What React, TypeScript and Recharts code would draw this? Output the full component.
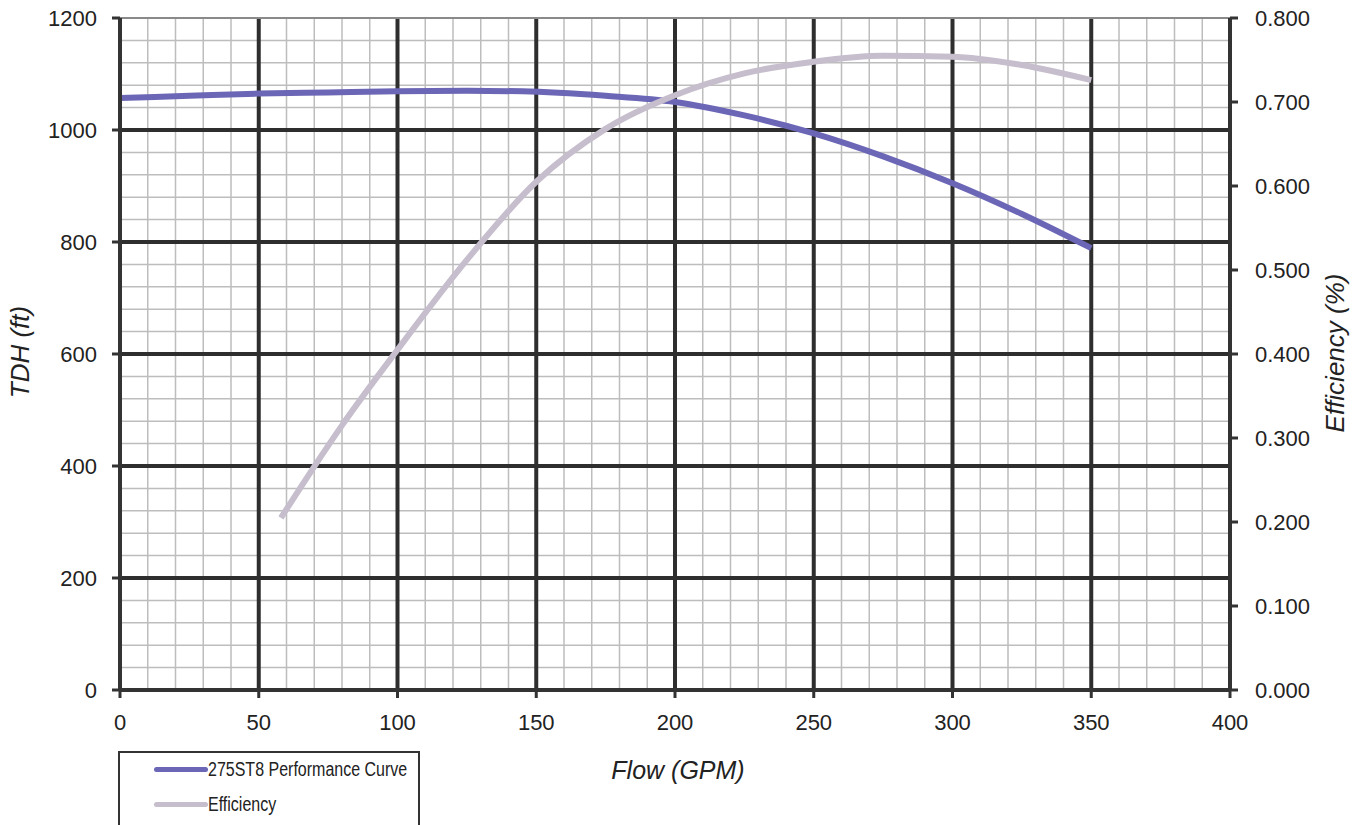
import React from 'react';
import { LineChart, Line, XAxis, YAxis, ReferenceLine } from 'recharts';

// Pump curve: TDH (ft) vs flow (GPM)
const tdhFlow = [0, 25, 50, 75, 100, 125, 145, 175, 200, 225, 250, 275, 300, 325, 350];
const tdhValues = [1057, 1061, 1065, 1067, 1069, 1070, 1069, 1061, 1050, 1026, 994, 953, 905, 850, 789];

// Efficiency (fraction) vs flow (GPM)
const effFlow = [58, 70, 80, 100, 125, 150, 175, 200, 225, 250, 275, 300, 325, 350];
const effValues = [0.205, 0.266, 0.315, 0.405, 0.512, 0.605, 0.668, 0.708, 0.734, 0.748, 0.755, 0.754, 0.744, 0.726];

const xTicks = [0, 50, 100, 150, 200, 250, 300, 350, 400];
const leftTicks = [0, 200, 400, 600, 800, 1000, 1200];
const rightTicks = [0, 0.1, 0.2, 0.3, 0.4, 0.5, 0.6, 0.7, 0.8];
const xMinor = [10, 20, 30, 40, 60, 70, 80, 90, 110, 120, 130, 140, 160, 170, 180, 190, 210, 220, 230, 240, 260, 270, 280, 290, 310, 320, 330, 340, 360, 370, 380, 390];
const yMinor = [40, 80, 120, 160, 240, 280, 320, 360, 440, 480, 520, 560, 640, 680, 720, 760, 840, 880, 920, 960, 1040, 1080, 1120, 1160];
const xMajor = [50, 100, 150, 200, 250, 300, 350];
const yMajor = [200, 400, 600, 800, 1000];

const series = [
  { name: '275ST8 Performance Curve', color: '#6b67b6' },
  { name: 'Efficiency', color: '#c6bdcd' },
];

const tdhData = tdhFlow.map((x, i) => ({ x, y: tdhValues[i] }));
const effData = effFlow.map((x, i) => ({ x, y: effValues[i] }));

const font = '"Liberation Sans", Arial, sans-serif';
const tickStyle = { fontSize: 22, fill: '#222', fontFamily: font };
const axisTitle: React.CSSProperties = {
  position: 'absolute',
  fontStyle: 'italic',
  color: '#222',
  whiteSpace: 'nowrap',
};

export default function App() {
  return (
    <div style={{ position: 'absolute', left: 0, top: 0, width: 1356, height: 825, background: '#fff', fontFamily: font, overflow: 'hidden' }}>
      <LineChart width={1356} height={825} margin={{ top: 18, right: 0, bottom: 95, left: 0 }}>
        <XAxis
          dataKey="x"
          type="number"
          domain={[0, 400]}
          ticks={xTicks}
          tick={tickStyle}
          tickSize={8}
          tickMargin={16}
          height={40}
          axisLine={{ stroke: '#333', strokeWidth: 4 }}
          tickLine={{ stroke: '#333', strokeWidth: 3 }}
          allowDuplicatedCategory={false}
        />
        <YAxis
          yAxisId="left"
          domain={[0, 1200]}
          ticks={leftTicks}
          tick={tickStyle}
          tickSize={8}
          tickMargin={15}
          width={120}
          axisLine={{ stroke: '#333', strokeWidth: 4 }}
          tickLine={{ stroke: '#333', strokeWidth: 3 }}
        />
        <YAxis
          yAxisId="right"
          orientation="right"
          domain={[0, 0.8]}
          ticks={rightTicks}
          tickFormatter={(v: number) => v.toFixed(3)}
          tick={tickStyle}
          tickSize={8}
          tickMargin={17}
          width={126}
          axisLine={{ stroke: '#333', strokeWidth: 4 }}
          tickLine={{ stroke: '#333', strokeWidth: 3 }}
        />

        {/* minor grid */}
        {xMinor.map((v) => (
          <ReferenceLine key={'xm' + v} x={v} yAxisId="left" stroke="#bdbdbd" strokeWidth={1.5} />
        ))}
        {yMinor.map((v) => (
          <ReferenceLine key={'ym' + v} y={v} yAxisId="left" stroke="#bdbdbd" strokeWidth={1.5} />
        ))}
        {/* major grid */}
        {xMajor.map((v) => (
          <ReferenceLine key={'xM' + v} x={v} yAxisId="left" stroke="#2e2e2e" strokeWidth={4} />
        ))}
        {yMajor.map((v) => (
          <ReferenceLine key={'yM' + v} y={v} yAxisId="left" stroke="#2e2e2e" strokeWidth={4} />
        ))}
        <ReferenceLine y={1200} yAxisId="left" stroke="#8a8a8a" strokeWidth={2} />

        <Line
          yAxisId="left"
          data={tdhData}
          dataKey="y"
          name={series[0].name}
          type="monotone"
          stroke={series[0].color}
          strokeWidth={6}
          dot={false}
          isAnimationActive={false}
        />
        <Line
          yAxisId="right"
          data={effData}
          dataKey="y"
          name={series[1].name}
          type="monotone"
          stroke={series[1].color}
          strokeWidth={6}
          dot={false}
          isAnimationActive={false}
        />
      </LineChart>

      {/* axis titles */}
      <div style={{ ...axisTitle, left: 678, top: 770, transform: 'translate(-50%, -50%)', fontSize: 25 }}>
        Flow (GPM)
      </div>
      <div style={{ ...axisTitle, left: 20, top: 352, transform: 'translate(-50%, -50%) rotate(-90deg)', fontSize: 26 }}>
        TDH (ft)
      </div>
      <div style={{ ...axisTitle, left: 1335, top: 353, transform: 'translate(-50%, -50%) rotate(-90deg)', fontSize: 26 }}>
        Efficiency (%)
      </div>

      {/* legend */}
      <div style={{ position: 'absolute', left: 118, top: 751, width: 302, height: 80, border: '2px solid #333', boxSizing: 'border-box' }}>
        {series.map((s, i) => (
          <div key={s.name} style={{ display: 'flex', alignItems: 'center', height: i === 0 ? 33 : 37, paddingLeft: 34 }}>
            <div style={{ width: 54, height: 5, borderRadius: 3, background: s.color, flexShrink: 0 }} />
            <span style={{ display: 'inline-block', fontSize: 20, color: '#222', whiteSpace: 'nowrap', transform: 'scaleX(0.8)', transformOrigin: 'left center' }}>
              {s.name}
            </span>
          </div>
        ))}
      </div>
    </div>
  );
}
